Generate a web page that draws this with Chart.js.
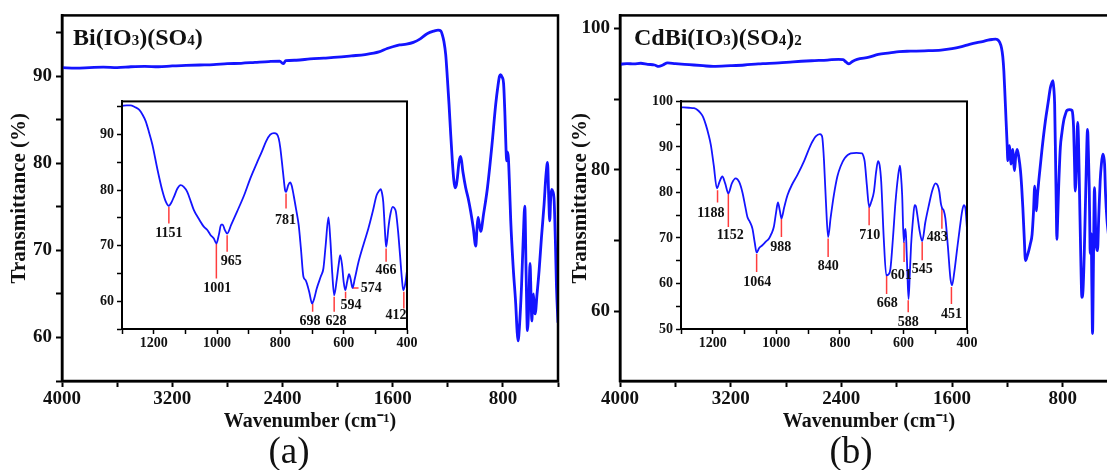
<!DOCTYPE html>
<html>
<head>
<meta charset="utf-8">
<script src="https://cdn.jsdelivr.net/npm/chart.js@4.4.1/dist/chart.umd.min.js"></script>
<style>
  html, body { margin: 0; padding: 0; background: #fff; overflow: hidden; width: 1107px; height: 470px; }
  canvas { position: absolute; }
</style>
</head>
<body>
<canvas id="mainA" width="560" height="470" style="left:0;top:0"></canvas>
<canvas id="mainB" width="560" height="470" style="left:560px;top:0"></canvas>
<canvas id="insetA" width="329" height="265" style="left:92px;top:90px"></canvas>
<canvas id="insetB" width="332" height="265" style="left:649px;top:90px"></canvas>
<script>
// ---- full spectra (wavenumber cm-1 / transmittance %) ----
const waveA = [4000,3900,3800,3700,3600,3500,3400,3300,3200,3100,3000,2900,2800,2700,2600,2500,2420,2395,2375,2300,2200,2100,2000,1900,1800,1700,1640,1600,1550,1500,1450,1400,1350,1300,1270,1250,1240,1228,1215,1203,1191,1179,1167,1157,1148,1138,1130,1118,1106,1090,1070,1052,1034,1015,997,988,980,970,961,940,912,880,852,835,825,816,805,795,785,777,772,766,760,752,743,725,707,697,690,680,665,652,641,631,622,612,603,596,590,584,578,572,566,552,537,520,501,488,476,468,460,453,447,438,428,418,411,400];
const transA = [91.0,90.95,91.0,91.05,91.0,91.1,91.15,91.1,91.2,91.25,91.3,91.35,91.45,91.5,91.6,91.7,91.75,91.45,91.8,91.85,92.0,92.1,92.2,92.35,92.5,92.8,93.2,93.4,93.6,93.7,93.9,94.3,94.9,95.2,95.3,95.2,94.8,94.0,92.5,89.8,86.8,83.4,80.3,78.2,77.2,77.5,78.4,80.2,80.8,79.0,77.2,76.0,74.5,72.6,70.5,72.5,73.8,72.9,72.2,74.2,77.2,82.0,86.8,89.0,90.0,90.2,89.9,89.2,85.5,81.5,80.3,81.3,80.6,77.5,73.4,68.0,63.9,60.8,59.6,61.2,65.8,71.5,75.1,67.0,60.8,63.8,68.5,65.0,61.9,64.0,65.0,63.2,62.7,65.0,67.7,71.5,75.3,78.5,80.1,76.5,73.4,76.0,77.0,76.8,75.7,70.5,65.8,61.7];

const waveB = [4000,3950,3900,3850,3800,3750,3720,3690,3656,3600,3500,3400,3326,3200,3100,3000,2948,2850,2750,2616,2500,2420,2388,2365,2345,2320,2286,2200,2133,2050,1982,1900,1800,1679,1600,1530,1474,1420,1380,1340,1310,1285,1273,1255,1242,1233,1225,1217,1209,1202,1196,1190,1184,1178,1173,1166,1160,1154,1148,1140,1129,1117,1105,1096,1088,1078,1069,1057,1045,1033,1021,1011,1002,996,990,983,973,950,925,905,889,878,870,864,858,851,846,842,837,830,817,805,793,781,769,750,733,727,721,715,709,700,692,686,678,670,661,653,644,632,620,614,608,604,601,597,594,589,584,578,570,565,560,554,548,539,529,520,510,503,497,490,480,470];
const transB = [94.9,95.0,94.95,95.05,94.9,94.8,94.6,94.8,95.1,95.0,94.85,94.7,94.6,94.7,94.8,94.95,95.0,95.1,95.25,95.4,95.5,95.6,95.55,95.2,94.95,95.3,95.6,95.9,96.3,96.5,96.7,96.75,96.8,96.9,97.1,97.4,97.7,97.95,98.1,98.3,98.4,98.45,98.4,98.0,97.2,96.0,93.9,90.5,86.9,83.8,81.3,82.8,83.4,81.8,80.8,82.2,82.9,81.0,79.9,81.8,82.9,81.8,79.9,77.5,74.7,70.5,67.2,67.8,68.6,69.6,70.9,74.0,77.7,76.0,74.2,76.2,78.4,82.8,86.9,89.5,91.6,92.3,92.6,91.5,89.3,81.0,74.5,70.2,72.5,77.0,83.1,85.3,86.9,87.8,88.4,88.5,88.4,87.8,86.0,81.5,77.0,80.5,86.7,84.5,76.6,68.5,62.0,63.0,68.1,78.0,85.7,82.5,77.5,72.0,68.2,70.5,71.0,63.5,56.9,66.0,77.5,74.5,70.0,68.9,68.6,73.5,78.4,80.8,82.2,81.8,80.8,76.6,73.0,71.0];

// ---- inset spectra (1300-400 cm-1) ----
const insetWaveA = [1300,1285,1273,1260,1246,1235,1225,1215,1204,1189,1173,1162,1152,1144,1136,1125,1115,1105,1094,1083,1073,1057,1041,1030,1020,1010,1002,994,987,982,975,968,955,937,915,895,875,858,845,832,820,811,805,800,792,785,782,775,769,764,758,750,742,735,727,720,716,708,700,693,685,672,664,657,648,642,636,630,622,616,611,605,600,595,589,583,578,572,565,553,538,522,508,496,488,483,479,475,470,466,462,459,452,445,440,435,428,422,416,412,406,400];
const insetTransA = [95.2,95.3,95.3,95.0,94.5,93.6,92.4,90.5,88.2,84.0,80.0,78.0,77.2,77.8,78.8,80.3,80.9,80.6,79.7,78.0,76.4,74.8,73.4,72.8,71.9,71.3,70.4,72.0,73.8,73.8,72.8,72.2,73.8,76.1,79.0,82.1,84.8,87.0,88.8,90.0,90.3,90.1,89.3,87.6,83.5,80.0,79.7,80.9,81.4,80.8,79.1,76.5,73.7,69.5,64.4,63.8,63.2,61.5,59.6,60.5,62.3,64.5,65.9,70.0,75.1,71.0,65.0,61.1,63.8,66.5,68.3,66.5,63.5,62.0,63.5,64.9,64.0,62.4,64.0,67.1,70.1,73.1,76.2,79.1,79.9,80.2,79.5,77.9,73.0,69.8,71.3,73.1,75.8,77.0,76.8,76.1,72.5,68.3,64.0,62.0,63.0,65.5];

const insetWaveB = [1300,1275,1259,1248,1238,1230,1222,1214,1206,1197,1187,1178,1170,1161,1151,1140,1128,1117,1107,1098,1091,1083,1075,1068,1062,1054,1044,1033,1023,1015,1008,1001,995,989,984,975,965,950,934,912,892,876,863,858,855,850,844,837,829,819,808,798,785,766,748,730,726,722,715,708,701,693,686,680,675,670,662,654,647,641,633,625,617,611,608,604,599,596,593,590,588,584,580,576,570,565,561,557,549,541,531,520,509,499,492,487,482,478,473,468,460,452,447,440,431,423,415,410,405,400];
const insetTransB = [98.7,98.6,98.5,98.1,97.4,96.5,94.9,92.9,90.4,86.0,80.9,82.5,83.5,82.0,79.8,82.0,83.1,82.3,80.1,77.0,74.6,73.5,72.0,69.0,66.8,67.8,68.4,69.2,69.9,71.0,72.4,75.5,77.8,76.0,74.3,76.8,79.4,81.8,83.8,87.0,90.4,92.3,92.8,92.6,91.9,87.0,78.0,70.2,74.5,79.4,83.5,85.7,87.5,88.6,88.7,88.6,88.0,86.8,81.5,76.8,78.0,80.1,84.5,86.9,86.0,82.4,70.0,61.8,62.0,63.2,70.0,77.9,83.5,85.9,84.0,79.4,69.1,71.5,72.0,67.0,63.2,56.6,62.0,68.4,74.0,77.2,77.0,75.4,71.5,69.3,73.5,77.2,80.5,82.0,81.5,80.1,77.5,76.5,76.0,74.3,68.0,61.0,59.6,62.5,67.6,72.0,76.0,77.2,76.5,72.0];

// ---- peak assignments in the insets ----
const peakTextA = ['1151','1001','965','781','698','628','594','574','466','412'];
const markX1A = [1152,1002,968,782,698,630,594,572,466,410];
const markX2A = [1152,1002,968,782,698,630,594,553,466,410];
const markY1A = [77.0,70.4,71.9,79.4,59.6,60.8,61.7,62.4,69.5,61.7];
const markY2A = [74.0,64.1,68.9,76.7,58.1,58.1,60.5,62.4,67.1,58.7];
const labelXA = [1152,999,955,784,706,624,577,513,466,435];
const labelYA = [72.2,62.4,67.1,74.6,56.3,56.3,59.2,62.4,65.6,57.5];

const peakTextB = ['1188','1152','1064','988','840','710','668','601','588','545','483','451'];
const markX1B = [1185,1151,1062,984,837,708,653,598,585,541,479,449];
const markX2B = markX1B;
const markY1B = [80.5,79.8,66.5,74.3,69.9,76.8,61.8,69.1,56.3,69.1,76.5,59.2];
const markY2B = [77.8,72.4,62.5,70.2,65.8,72.8,57.7,64.7,53.7,65.1,72.0,55.5];
const labelXB = [1206,1145,1060,986,837,706,651,607,585,541,494,449];
const labelYB = [75.4,70.6,60.3,67.9,63.8,70.6,55.7,61.8,51.5,63.2,70.2,53.3];

// ---- ticks ----
const mainXTicks = [4000,3600,3200,2800,2400,2000,1600,1200,800,400];
const mainXLabels = ['4000','','3200','','2400','','1600','','800',''];
const mainYTicksA = [55,60,65,70,75,80,85,90,95];
const mainYLabelsA = ['','60','','70','','80','','90',''];
const mainYTicksB = [60,70,80,90,100];
const mainYLabelsB = ['60','','80','','100'];
const insetXTicks = [1300,1200,1100,1000,900,800,700,600,500,400];
const insetXLabels = ['','1200','','1000','','800','','600','','400'];
const insetYTicksA = [55,60,65,70,75,80,85,90,95];
const insetYLabelsA = ['','60','','70','','80','','90',''];
const insetYTicksB = [50,55,60,65,70,75,80,85,90,95,100];
const insetYLabelsB = ['50','','60','','70','','80','','90','','100'];

const nameA = ['Bi(IO', '3', ')(SO', '4', ')'];
const nameB = ['CdBi(IO', '3', ')(SO', '4', ')', '2'];

const SERIF = '"Liberation Serif", "Times New Roman", serif';
Chart.defaults.font.family = SERIF;
const blue = '#1414ff';
const red = '#ff3c3c';
const ink = '#111';

// box around the plot area
const frame = {
    id: 'frame',
    afterDraw(chart, args, opts) {
        const { ctx, chartArea: a } = chart;
        ctx.save();
        ctx.strokeStyle = '#000';
        ctx.lineWidth = opts.width || 2.5;
        ctx.strokeRect(a.left, a.top, a.right - a.left, a.bottom - a.top);
        ctx.restore();
    }
};

// compound name in the corner + (a)/(b) under the axis
const caption = {
    id: 'caption',
    afterDraw(chart, args, opts) {
        if (!opts.parts) return;
        const { ctx, chartArea: a } = chart;
        ctx.save();
        ctx.fillStyle = ink;
        ctx.textBaseline = 'alphabetic';
        let x = a.left + opts.dx;
        opts.parts.forEach((p, i) => {
            ctx.font = (i % 2 ? 'bold 15px ' : 'bold 24px ') + SERIF;
            ctx.fillText(p, x, 45);
            x += ctx.measureText(p).width;
        });
        ctx.font = '37px ' + SERIF;
        ctx.textAlign = 'center';
        ctx.fillText(opts.letter, opts.letterX, 463);
        ctx.restore();
    }
};

// wavenumber labels next to the red markers
const peakText = {
    id: 'peakText',
    afterDatasetsDraw(chart, args, opts) {
        if (!opts.text) return;
        const { ctx, scales: { x, y } } = chart;
        ctx.save();
        ctx.font = 'bold 14px ' + SERIF;
        ctx.fillStyle = ink;
        ctx.textAlign = 'center';
        ctx.textBaseline = 'middle';
        opts.text.forEach((t, i) => {
            ctx.fillText(t, x.getPixelForValue(opts.x[i]), y.getPixelForValue(opts.y[i]));
        });
        ctx.restore();
    }
};

function points(xs, ys) {
    return xs.map((w, i) => ({ x: w, y: ys[i] }));
}

function axis(cfg) {
    return {
        type: 'linear',
        position: cfg.position,
        reverse: !!cfg.reverse,
        min: cfg.min,
        max: cfg.max,
        afterBuildTicks: s => { s.ticks = cfg.ticks.map(v => ({ value: v })); },
        afterFit: s => { if (cfg.position === 'bottom') s.height = cfg.size; else s.width = cfg.size; },
        ticks: {
            autoSkip: false,
            maxRotation: 0,
            padding: cfg.pad,
            color: ink,
            font: { size: cfg.font, weight: 'bold' },
            callback: v => cfg.labels[cfg.ticks.indexOf(v)] ?? ''
        },
        grid: { drawOnChartArea: false, tickLength: cfg.tick, tickWidth: cfg.tickWidth, tickColor: '#000' },
        border: { color: '#000', width: cfg.border },
        title: cfg.title ? {
            display: true,
            text: cfg.title,
            color: ink,
            font: { size: cfg.titleSize, weight: 'bold' },
            padding: cfg.titlePad
        } : { display: false }
    };
}

function mainChart(id, wave, trans, yCfg, name, letter, letterX, dx) {
    return new Chart(document.getElementById(id), {
        type: 'line',
        data: {
            datasets: [{
                data: points(wave, trans),
                borderColor: blue,
                borderWidth: 2.8,
                pointRadius: 0,
                cubicInterpolationMode: 'monotone'
            }]
        },
        options: {
            responsive: false,
            animation: false,
            events: [],
            layout: { padding: { top: 14, right: 2, left: 0, bottom: 0 } },
            plugins: {
                legend: { display: false },
                tooltip: { enabled: false },
                frame: { width: 2.5 },
                caption: { parts: name, letter: letter, letterX: letterX, dx: dx }
            },
            scales: {
                x: axis({ position: 'bottom', reverse: true, min: 400, max: 4000, ticks: mainXTicks, labels: mainXLabels,
                    size: 89, pad: 1, font: 19, tick: 6, tickWidth: 2, border: 2.5,
                    title: 'Wavenumber (cm\u207B\u00B9)', titleSize: 20, titlePad: { top: 0, bottom: 36 } }),
                y: axis(Object.assign({ position: 'left', pad: 4, font: 19, tick: 6, tickWidth: 2, border: 2.5,
                    title: 'Transmittance (%)', titleSize: 21 }, yCfg))
            }
        },
        plugins: [frame, caption]
    });
}

function insetChart(id, wave, trans, marks, yCfg) {
    const markSets = marks.text.map((t, i) => ({
        data: [{ x: marks.x1[i], y: marks.y1[i] }, { x: marks.x2[i], y: marks.y2[i] }],
        borderColor: red,
        borderWidth: 1.5,
        pointRadius: 0
    }));
    return new Chart(document.getElementById(id), {
        type: 'line',
        data: {
            datasets: [{
                data: points(wave, trans),
                borderColor: blue,
                borderWidth: 1.8,
                pointRadius: 0,
                cubicInterpolationMode: 'monotone'
            }].concat(markSets)
        },
        options: {
            responsive: false,
            animation: false,
            events: [],
            layout: { padding: { top: 10, right: 14, left: 0, bottom: 0 } },
            plugins: {
                legend: { display: false },
                tooltip: { enabled: false },
                frame: { width: 2 },
                peakText: { text: marks.text, x: marks.lx, y: marks.ly }
            },
            scales: {
                x: axis({ position: 'bottom', reverse: true, min: 400, max: 1300, ticks: insetXTicks, labels: insetXLabels,
                    size: 26, pad: 1, font: 14, tick: 5, tickWidth: 1.5, border: 2 }),
                y: axis(Object.assign({ position: 'left', pad: 3, font: 14, tick: 5, tickWidth: 1.5, border: 2 }, yCfg))
            }
        },
        plugins: [frame, peakText]
    });
}

mainChart('mainA', waveA, transA,
    { min: 55, max: 97, ticks: mainYTicksA, labels: mainYLabelsA, size: 62, titlePad: { top: 7, bottom: 0 } },
    nameA, '(a)', 289, 11);

mainChart('mainB', waveB, transB,
    { min: 50.2, max: 101.8, ticks: mainYTicksB, labels: mainYLabelsB, size: 60, titlePad: { top: 8, bottom: 0 } },
    nameB, '(b)', 291, 14);

insetChart('insetA', insetWaveA, insetTransA,
    { text: peakTextA, x1: markX1A, x2: markX2A, y1: markY1A, y2: markY2A, lx: labelXA, ly: labelYA },
    { min: 55, max: 96, ticks: insetYTicksA, labels: insetYLabelsA, size: 30 });

insetChart('insetB', insetWaveB, insetTransB,
    { text: peakTextB, x1: markX1B, x2: markX2B, y1: markY1B, y2: markY2B, lx: labelXB, ly: labelYB },
    { min: 50, max: 100, ticks: insetYTicksB, labels: insetYLabelsB, size: 32 });
</script>
</body>
</html>
